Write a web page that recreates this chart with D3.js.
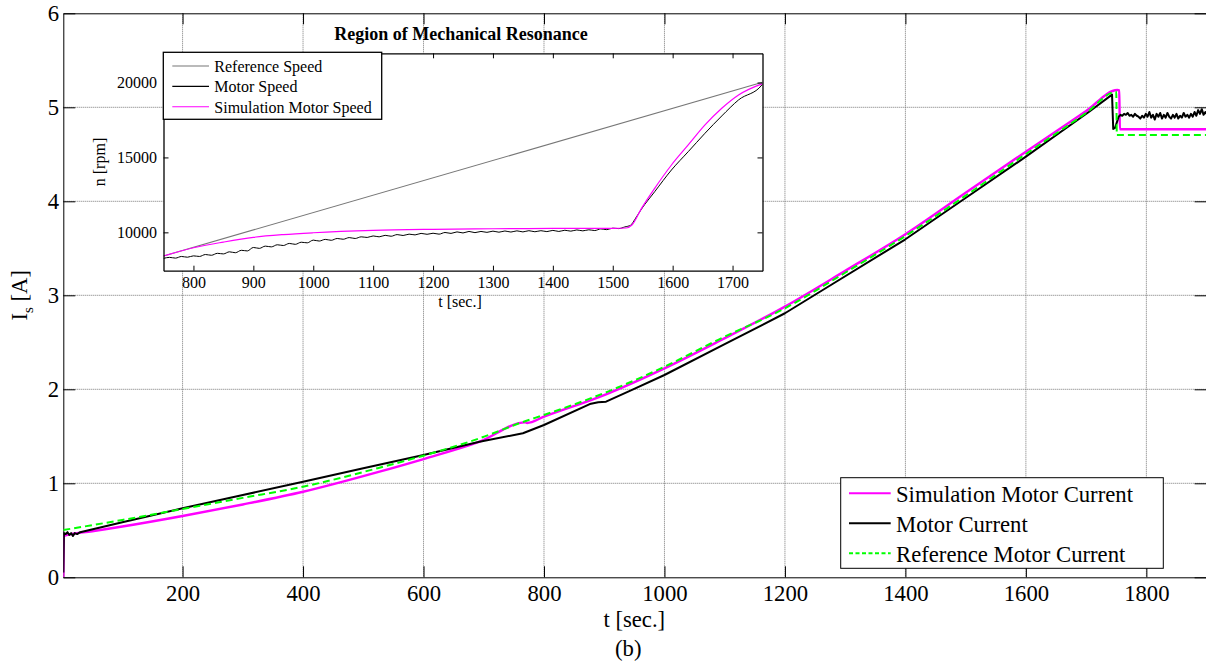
<!DOCTYPE html>
<html><head><meta charset="utf-8">
<script src="https://cdn.jsdelivr.net/npm/d3@7"></script>
<style>
html,body{margin:0;padding:0;background:#fff;}
svg{display:block;font-family:'Liberation Serif','Times New Roman',serif;}
</style></head>
<body>
<svg id="chart" width="1206" height="669"></svg>
<script>
// ---------- DATA ----------
const xTicks = [200,400,600,800,1000,1200,1400,1600,1800];
const yTicks = [0,1,2,3,4,5,6];
const insetXTicks = [800,900,1000,1100,1200,1300,1400,1500,1600,1700];
const insetYTicks = [10000,15000,20000];

const seriesNames = ["Simulation Motor Current","Motor Current","Reference Motor Current"];
const insetNames = ["Reference Speed","Motor Speed","Simulation Motor Speed"];

// Simulation motor current [t, A]
const simCurrent = [[2,0.0],[3,0.44],[50,0.49],[100,0.54],[200,0.652],[300,0.775],[400,0.91],[527,1.124],[600,1.258],
 [693,1.443],[769,1.648],[772,1.642],[800,1.709],[903,1.947],[1000,2.223],[1091,2.514],[1200,2.88],[1300,3.26],
 [1400,3.649],[1500,4.09],[1600,4.528],[1700,4.96],[1752,5.184],[1755,5.18],[1756,4.766],[1900,4.766]];

// Measured motor current [t, A]
const motorCurrent = [[2,0.05],[3,0.47],[6,0.46],[9,0.48],[12,0.45],[15,0.47],[18,0.44],[21,0.47],[25,0.46],[30,0.48],
 [100,0.585],[200,0.734],[300,0.875],[400,1.017],[500,1.16],[600,1.30],[693,1.443],[765,1.532],[800,1.62],[876,1.843],
 [890,1.862],[903,1.868],[948,2.0],[1000,2.152],[1100,2.48],[1200,2.809],[1279,3.12],[1400,3.596],[1495,4.014],[1600,4.475],
 [1705,4.953],[1743,5.135],[1745,4.77],[1748,4.78],[1751,4.84],[1754,4.90],[1757,4.92],[1760,4.91],[1763,4.93],
 [1766,4.92],[1769,4.94],[1772,4.91],[1775,4.92],[1778,4.90],[1781,4.93],[1784,4.91],[1787,4.90],[1790,4.88],
 [1793,4.91],[1796,4.89],[1799,4.93],[1802,4.90],[1805,4.95],[1808,4.89],[1811,4.92],[1814,4.87],[1817,4.93],
 [1820,4.90],[1823,4.94],[1826,4.88],[1829,4.92],[1832,4.89],[1835,4.94],[1838,4.90],[1841,4.88],[1844,4.92],
 [1847,4.89],[1850,4.93],[1853,4.88],[1856,4.91],[1859,4.89],[1862,4.94],[1865,4.90],[1868,4.92],[1871,4.89],
 [1874,4.93],[1877,4.90],[1880,4.95],[1883,4.91],[1886,4.97],[1889,4.93],[1892,4.98],[1895,4.92],[1898,4.95],[1900,4.93]];

// Reference motor current [t, A]
const refCurrent = [[2,0.503],[100,0.61],[200,0.727],[300,0.845],[400,0.964],[527,1.166],[600,1.294],[693,1.479],
 [771,1.666],[800,1.727],[903,1.968],[1000,2.24],[1091,2.532],[1200,2.862],[1300,3.24],[1400,3.631],[1500,4.06],
 [1600,4.503],[1700,4.94],[1750,5.166],[1751,4.705],[1900,4.705]];

// Inset: reference speed [t, rpm]
const refSpeed = [[750,8420],[1750,20020]];
// Inset: measured motor speed [t, rpm]
const motorSpeed = [[750,8260],[760,8330],[770,8280],[780,8390],[790,8340],[800,8430],[810,8390],[820,8520],[830,8470],
 [840,8600],[850,8560],[860,8700],[870,8640],[880,8800],[890,8760],[900,8990],[910,8930],[920,9080],[930,9030],
 [940,9170],[950,9120],[960,9260],[970,9200],[980,9340],[990,9300],[1000,9480],[1010,9420],[1020,9530],[1030,9470],
 [1040,9590],[1050,9540],[1060,9650],[1070,9590],[1080,9700],[1090,9660],[1100,9760],[1110,9700],[1120,9800],
 [1130,9740],[1140,9850],[1150,9790],[1160,9880],[1170,9830],[1180,9930],[1190,9870],[1200,9940],[1210,9880],
 [1220,9990],[1230,9930],[1240,10030],[1250,9960],[1260,10060],[1270,9980],[1280,10060],[1290,10000],[1300,10080],
 [1310,10010],[1320,10090],[1330,10020],[1340,10100],[1350,10030],[1360,10110],[1370,10040],[1380,10110],
 [1390,10050],[1400,10130],[1410,10060],[1420,10140],[1430,10080],[1440,10160],[1450,10100],[1460,10170],
 [1470,10120],[1480,10230],[1490,10180],[1500,10280],[1510,10250],[1520,10360],[1530,10480],[1537,10870],
 [1548,11556],[1570,12712],[1598,14161],[1626,15384],[1654,16613],[1682,17769],[1710,18838],[1749,19840],[1750,19900]];
// Inset: simulated motor speed [t, rpm]
const simSpeed = [[750,8420],[800,8970],[850,9350],[900,9666],[950,9850],[1000,9973],[1100,10130],[1200,10200],
 [1300,10240],[1400,10260],[1500,10270],[1522,10290],[1532,10488],[1548,11600],[1570,12940],[1598,14495],
 [1626,15832],[1654,17168],[1682,18283],[1710,19172],[1750,19930]];

// ---------- LAYOUT ----------
const svg = d3.select("#chart");
const FF = "'Liberation Serif','Times New Roman',serif";
const FONT = 22.7, IFONT = 16;
const M = {l:63.3, r:1206.6, t:13.3, b:577.3};
const x = d3.scaleLinear().domain([2,1900]).range([M.l, M.r]);
const y = d3.scaleLinear().domain([0,6]).range([M.b, M.t]);
const fmt = d => String(d);

const main = svg.append("g");
// grid
main.append("g").selectAll("line").data(xTicks).join("line")
  .attr("x1",d=>x(d)).attr("x2",d=>x(d)).attr("y1",M.t).attr("y2",M.b)
  .attr("stroke","#777").attr("stroke-width",1).attr("stroke-dasharray","1,1");
main.append("g").selectAll("line").data(yTicks.slice(1,-1)).join("line")
  .attr("x1",M.l).attr("x2",M.r).attr("y1",d=>y(d)).attr("y2",d=>y(d))
  .attr("stroke","#777").attr("stroke-width",1).attr("stroke-dasharray","1,1");

function styleAxis(g, fs){
  g.attr("font-family",FF);
  g.selectAll("text").attr("font-size",fs).attr("fill","#000").attr("font-family",FF);
  g.selectAll("line,path").attr("stroke","#000");
}
// axes
main.append("g").attr("transform",`translate(0,${M.b})`)
  .call(d3.axisBottom(x).tickValues(xTicks).tickFormat(fmt).tickSizeInner(-11).tickSizeOuter(0).tickPadding(7.6))
  .call(g=>styleAxis(g,FONT));
main.append("g").attr("transform",`translate(0,${M.t})`)
  .call(d3.axisTop(x).tickValues(xTicks).tickSizeInner(-11).tickSizeOuter(0).tickFormat(""))
  .call(g=>styleAxis(g,FONT));
main.append("g").attr("transform",`translate(${M.l},0)`)
  .call(d3.axisLeft(y).tickValues(yTicks).tickFormat(fmt).tickSizeInner(-12).tickSizeOuter(0).tickPadding(4.3))
  .call(g=>styleAxis(g,FONT));
main.append("g").attr("transform",`translate(${M.r},0)`)
  .call(d3.axisRight(y).tickValues(yTicks).tickSizeInner(-12).tickSizeOuter(0).tickFormat(""))
  .call(g=>styleAxis(g,FONT));

// clip
svg.append("clipPath").attr("id","mclip").append("rect")
  .attr("x",M.l).attr("y",M.t).attr("width",M.r-M.l).attr("height",M.b-M.t);

const line = d3.line().x(d=>x(d[0])).y(d=>y(d[1])).curve(d3.curveMonotoneX);
const lineLin = d3.line().x(d=>x(d[0])).y(d=>y(d[1]));
const lines = main.append("g").attr("clip-path","url(#mclip)");
lines.append("path").datum(simCurrent).attr("d",line).attr("fill","none")
  .attr("stroke","#ff00ff").attr("stroke-width",2.4).attr("stroke-linejoin","round");
lines.append("path").datum(motorCurrent).attr("d",lineLin).attr("fill","none")
  .attr("stroke","#000").attr("stroke-width",2).attr("stroke-linejoin","round");
lines.append("path").datum(refCurrent).attr("d",line).attr("fill","none")
  .attr("stroke","#00ff00").attr("stroke-width",2).attr("stroke-dasharray","7,4");

// labels
const lab = svg.append("g").attr("font-size",FONT).attr("fill","#000");
lab.append("text").attr("x",634.3).attr("y",626.5).attr("text-anchor","middle").text("t [sec.]");
lab.append("text").attr("x",628.3).attr("y",655.5).attr("text-anchor","middle").text("(b)");
const yl = lab.append("text").attr("transform",`translate(27,${(M.t+M.b)/2}) rotate(-90)`).attr("text-anchor","middle");
yl.append("tspan").text("I");
yl.append("tspan").attr("font-size",15).attr("dy",6).text("s");
yl.append("tspan").attr("dy",-6).text(" [A]");

// main legend
const lg = svg.append("g");
lg.append("rect").attr("x",840.7).attr("y",477.7).attr("width",322.6).attr("height",90.6)
  .attr("fill","#fff").attr("stroke","#000").attr("stroke-width",1);
const lgStyle = [{c:"#ff00ff",w:2,d:null},{c:"#000",w:2,d:null},{c:"#00ff00",w:2,d:"4,2.5"}];
seriesNames.forEach((n,i)=>{
  const yy = 493.3 + i*30;
  const l = lg.append("line").attr("x1",849).attr("x2",890.7).attr("y1",yy).attr("y2",yy)
    .attr("stroke",lgStyle[i].c).attr("stroke-width",lgStyle[i].w);
  if(lgStyle[i].d) l.attr("stroke-dasharray",lgStyle[i].d);
  lg.append("text").attr("x",896).attr("y",yy+8.4).attr("font-size",FONT).text(n);
});

// ---------- INSET ----------
const I = {l:163.5, r:762.5, t:53.3, b:270.7};
const ix = d3.scaleLinear().domain([750,1750]).range([I.l, I.r]);
const iy = d3.scaleLinear().domain([7440,21950]).range([I.b, I.t]);
const ins = svg.append("g");
ins.append("rect").attr("x",I.l).attr("y",I.t).attr("width",I.r-I.l).attr("height",I.b-I.t).attr("fill","#fff");
svg.append("clipPath").attr("id","iclip").append("rect")
  .attr("x",I.l).attr("y",I.t).attr("width",I.r-I.l).attr("height",I.b-I.t);

const iline = d3.line().x(d=>ix(d[0])).y(d=>iy(d[1])).curve(d3.curveMonotoneX);
const il = ins.append("g").attr("clip-path","url(#iclip)");
il.append("path").datum(refSpeed).attr("d",iline).attr("fill","none").attr("stroke","#777").attr("stroke-width",1.1);
il.append("path").datum(motorSpeed).attr("d",iline).attr("fill","none").attr("stroke","#000").attr("stroke-width",1);
il.append("path").datum(simSpeed).attr("d",iline).attr("fill","none").attr("stroke","#ff00ff").attr("stroke-width",1.2);

ins.append("g").attr("transform",`translate(0,${I.b})`)
  .call(d3.axisBottom(ix).tickValues(insetXTicks).tickFormat(fmt).tickSizeInner(-5).tickSizeOuter(0).tickPadding(5.5))
  .call(g=>styleAxis(g,IFONT));
ins.append("g").attr("transform",`translate(0,${I.t})`)
  .call(d3.axisTop(ix).tickValues(insetXTicks).tickSizeInner(-5).tickSizeOuter(0).tickFormat(""))
  .call(g=>styleAxis(g,IFONT));
ins.append("g").attr("transform",`translate(${I.l},0)`)
  .call(d3.axisLeft(iy).tickValues(insetYTicks).tickFormat(fmt).tickSizeInner(-5).tickSizeOuter(0).tickPadding(6.5))
  .call(g=>styleAxis(g,IFONT));
ins.append("g").attr("transform",`translate(${I.r},0)`)
  .call(d3.axisRight(iy).tickValues(insetYTicks).tickSizeInner(-5).tickSizeOuter(0).tickFormat(""))
  .call(g=>styleAxis(g,IFONT));
ins.selectAll(".domain").attr("stroke-width",1.3);

ins.append("text").attr("x",461).attr("y",40).attr("text-anchor","middle")
  .attr("font-size",18).attr("font-weight","bold").text("Region of Mechanical Resonance");
ins.append("text").attr("x",460).attr("y",307).attr("text-anchor","middle").attr("font-size",IFONT).text("t [sec.]");
ins.append("text").attr("transform",`translate(105,${(I.t+I.b)/2}) rotate(-90)`).attr("text-anchor","middle")
  .attr("font-size",IFONT).text("n [rpm]");

// inset legend
const ilg = svg.append("g");
ilg.append("rect").attr("x",163.3).attr("y",52.3).attr("width",218.4).attr("height",67)
  .attr("fill","#fff").attr("stroke","#000").attr("stroke-width",1.3);
const ilgColors = ["#777","#000","#ff00ff"];
insetNames.forEach((n,i)=>{
  const yy = 66 + i*20.35;
  ilg.append("line").attr("x1",172.3).attr("x2",209).attr("y1",yy).attr("y2",yy)
    .attr("stroke",ilgColors[i]).attr("stroke-width",1.1);
  ilg.append("text").attr("x",214.3).attr("y",yy+6).attr("font-size",IFONT).text(n);
});
</script>
</body></html>
